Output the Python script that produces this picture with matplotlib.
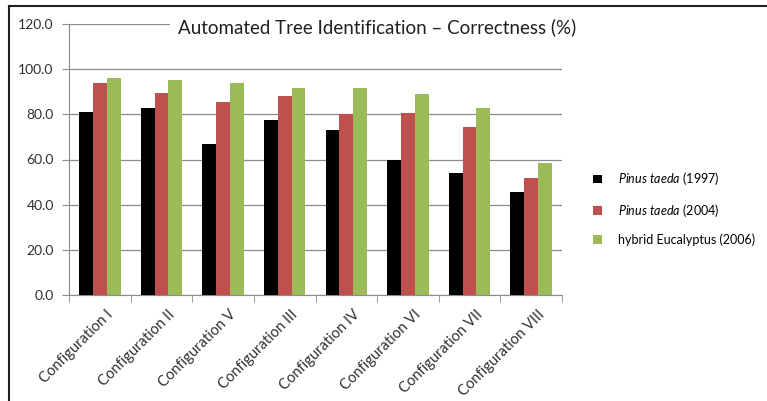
import numpy as np
import matplotlib
matplotlib.use('Agg')
import matplotlib.pyplot as plt
from matplotlib.lines import Line2D

plt.rcParams['font.family'] = ['Lato', 'DejaVu Sans']
plt.rcParams['mathtext.fontset'] = 'custom'
plt.rcParams['mathtext.rm'] = 'Lato'
plt.rcParams['mathtext.it'] = 'Lato:italic'

# Datos de correctness por configuracion
configs = ['Configuration I', 'Configuration II', 'Configuration V', 'Configuration III',
           'Configuration IV', 'Configuration VI', 'Configuration VII', 'Configuration VIII']
pinus_1997 = [81.1, 83.0, 66.7, 77.3, 72.9, 60.0, 54.1, 45.4]
pinus_2004 = [93.7, 89.5, 85.5, 88.2, 80.0, 80.4, 74.5, 51.9]
eucalyptus_2006 = [95.9, 95.1, 93.7, 91.7, 91.7, 89.2, 83.0, 58.5]
series_labels = [r'$\mathit{Pinus\ taeda}$ (1997)', r'$\mathit{Pinus\ taeda}$ (2004)',
                 'hybrid Eucalyptus (2006)']
colors = ['#000000', '#C0504D', '#9BBB59']

fig = plt.figure(figsize=(7.67, 4.01), dpi=100)
ax = fig.add_axes([69 / 767, 1 - 295 / 401, 493 / 767, 271 / 401])

x = np.arange(len(configs))
w = 0.224
for i, (vals, c, lab) in enumerate(zip([pinus_1997, pinus_2004, eucalyptus_2006], colors, series_labels)):
    ax.bar(x + (i - 1) * w, vals, width=w, color=c, label=lab, zorder=3)

ax.set_xlim(-0.5, len(configs) - 0.5)
ax.set_ylim(0, 120)
ax.set_yticks(np.arange(0, 121, 20))
ax.set_yticklabels([f'{v:.1f}' for v in np.arange(0, 121, 20)], fontsize=10, color='#303030')
ax.yaxis.grid(True, color='#8c8c8c', linewidth=0.9, zorder=0)

ax.set_xticks(x + 0.1)
ax.set_xticklabels(configs, rotation=45, ha='right', rotation_mode='anchor', fontsize=10.5, color='#303030')
ax.set_xticks(np.arange(-0.5, len(configs)), minor=True)
ax.tick_params(axis='x', which='major', length=0, pad=9)
ax.tick_params(axis='x', which='minor', length=5, color='#8c8c8c', direction='out')
ax.tick_params(axis='y', length=5, color='#8c8c8c', direction='out', pad=6)

for s in ['top', 'right']:
    ax.spines[s].set_visible(False)
for s in ['left', 'bottom']:
    ax.spines[s].set_color('#8c8c8c')

fig.text(377 / 767, 1 - 27 / 401, 'Automated Tree Identification \u2013 Correctness (%)',
         ha='center', va='center', fontsize=13.5, color='#202020',
         bbox=dict(facecolor='white', edgecolor='none', pad=6), zorder=5)

handles, labels = ax.get_legend_handles_labels()
fig.legend(handles, labels, loc='upper left', bbox_to_anchor=(582 / 767, 1 - 159 / 401),
           frameon=False, fontsize=9, handlelength=0.7, handleheight=0.7,
           handletextpad=1.3, labelspacing=1.15)

# marco del grafico
fig.add_artist(Line2D([9 / 767, 1], [1 - 6 / 401, 1 - 6 / 401], color='#202020', linewidth=1.5))
fig.add_artist(Line2D([9 / 767, 9 / 767], [0, 1 - 6 / 401], color='#202020', linewidth=1.5))

fig.savefig('out.png', dpi=100)
